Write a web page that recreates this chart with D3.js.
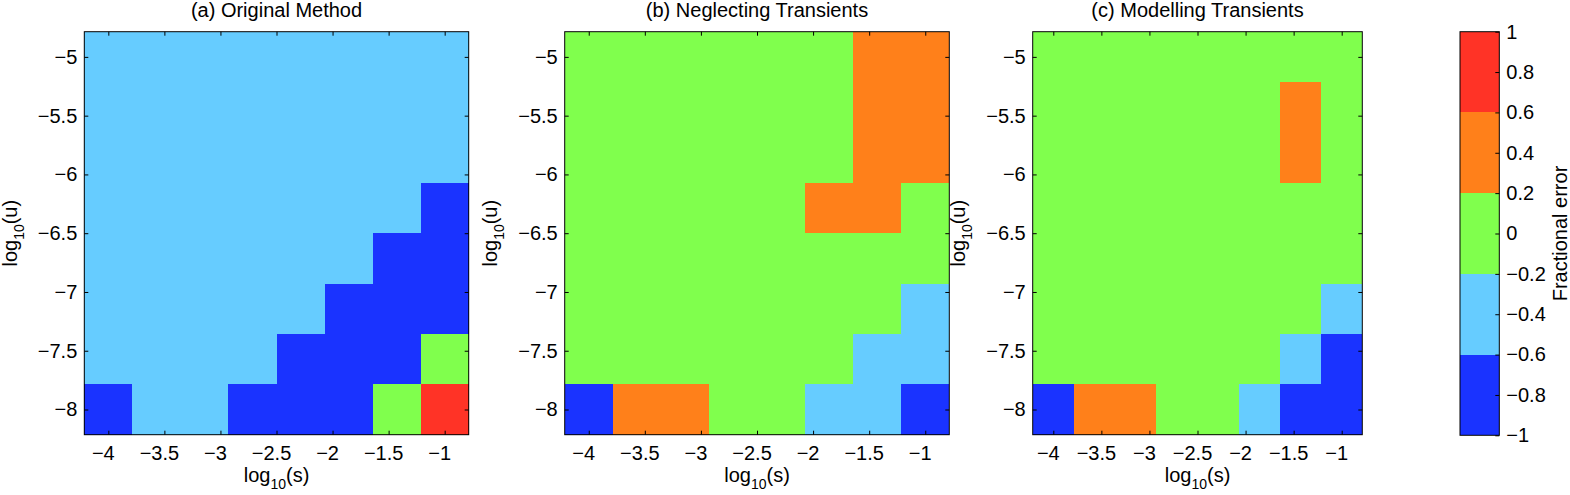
<!DOCTYPE html>
<html>
<head>
<meta charset="utf-8">
<script src="https://cdn.jsdelivr.net/npm/d3@7"></script>
<style>
  html, body { margin: 0; padding: 0; background: #fff; }
  svg { display: block; }
  text { font-family: "Liberation Sans", Arial, Helvetica, sans-serif; fill: #000; }
</style>
</head>
<body>
<svg id="chart" width="1570" height="495"></svg>
<script>
// ---- Data ----
const logS = [-4, -3.5714, -3.1429, -2.7143, -2.2857, -1.8571, -1.4286, -1];   // columns (x)
const logU = [-5, -5.4286, -5.8571, -6.2857, -6.7143, -7.1429, -7.5714, -8];   // rows (y), top to bottom
const xTicks = [-4, -3.5, -3, -2.5, -2, -1.5, -1];
const yTicks = [-5, -5.5, -6, -6.5, -7, -7.5, -8];
const cbTicks = [-1, -0.8, -0.6, -0.4, -0.2, 0, 0.2, 0.4, 0.6, 0.8, 1];
const cbLevels = [-1, -0.6, -0.2, 0.2, 0.6, 1];
const cbColors = ["#1a33ff", "#66ccff", "#80ff4d", "#ff801a", "#ff3326"];
const titles = ["(a) Original Method", "(b) Neglecting Transients", "(c) Modelling Transients"];

// fractional error, rows = logU (top to bottom), cols = logS
const errA = [
  [-0.4, -0.4, -0.4, -0.4, -0.4, -0.4, -0.4, -0.4],
  [-0.4, -0.4, -0.4, -0.4, -0.4, -0.4, -0.4, -0.4],
  [-0.4, -0.4, -0.4, -0.4, -0.4, -0.4, -0.4, -0.4],
  [-0.4, -0.4, -0.4, -0.4, -0.4, -0.4, -0.4, -0.8],
  [-0.4, -0.4, -0.4, -0.4, -0.4, -0.4, -0.8, -0.8],
  [-0.4, -0.4, -0.4, -0.4, -0.4, -0.8, -0.8, -0.8],
  [-0.4, -0.4, -0.4, -0.4, -0.8, -0.8, -0.8,  0.0],
  [-0.8, -0.4, -0.4, -0.8, -0.8, -0.8,  0.0,  0.8]
];
const errB = [
  [ 0.0,  0.0,  0.0,  0.0,  0.0,  0.0,  0.4,  0.4],
  [ 0.0,  0.0,  0.0,  0.0,  0.0,  0.0,  0.4,  0.4],
  [ 0.0,  0.0,  0.0,  0.0,  0.0,  0.0,  0.4,  0.4],
  [ 0.0,  0.0,  0.0,  0.0,  0.0,  0.4,  0.4,  0.0],
  [ 0.0,  0.0,  0.0,  0.0,  0.0,  0.0,  0.0,  0.0],
  [ 0.0,  0.0,  0.0,  0.0,  0.0,  0.0,  0.0, -0.4],
  [ 0.0,  0.0,  0.0,  0.0,  0.0,  0.0, -0.4, -0.4],
  [-0.8,  0.4,  0.4,  0.0,  0.0, -0.4, -0.4, -0.8]
];
const errC = [
  [ 0.0,  0.0,  0.0,  0.0,  0.0,  0.0,  0.0,  0.0],
  [ 0.0,  0.0,  0.0,  0.0,  0.0,  0.0,  0.4,  0.0],
  [ 0.0,  0.0,  0.0,  0.0,  0.0,  0.0,  0.4,  0.0],
  [ 0.0,  0.0,  0.0,  0.0,  0.0,  0.0,  0.0,  0.0],
  [ 0.0,  0.0,  0.0,  0.0,  0.0,  0.0,  0.0,  0.0],
  [ 0.0,  0.0,  0.0,  0.0,  0.0,  0.0,  0.0, -0.4],
  [ 0.0,  0.0,  0.0,  0.0,  0.0,  0.0, -0.4, -0.8],
  [-0.8,  0.4,  0.4,  0.0,  0.0, -0.4, -0.8, -0.8]
];
const panelData = [errA, errB, errC];

// ---- Layout ----
const svg = d3.select("#chart");
const plotTop = 31.7, plotBottom = 434.7;
const panelX = [[84.3, 468.7], [564.7, 949.3], [1032.7, 1362.3]];
const stepS = 3 / 7, stepU = 3 / 7;
const xDom = [-4 - stepS / 2, -1 + stepS / 2];
const yDom = [-8 - stepU / 2, -5 + stepU / 2];
const fs = 20, tickLen = 4;
const fmt = v => (v < 0 ? "\u2212" : "") + String(Math.abs(v));
// shared cell edges (one more than the number of centres)
const edgesS = logS.map(s => s - stepS / 2).concat([logS[logS.length - 1] + stepS / 2]);
const edgesU = logU.map(u => u + stepU / 2).concat([logU[logU.length - 1] - stepU / 2]);

const color = d3.scaleThreshold().domain(cbLevels.slice(1, -1)).range(cbColors);

panelData.forEach((grid, p) => {
  const [x0, x1] = panelX[p];
  const x = d3.scaleLinear().domain(xDom).range([x0, x1]);
  const y = d3.scaleLinear().domain(yDom).range([plotBottom, plotTop]);
  const g = svg.append("g");

  const ex = edgesS.map(e => Math.round(x(e)));
  const ey = edgesU.map(e => Math.round(y(e)));
  const cells = [];
  grid.forEach((row, r) => row.forEach((v, c) => cells.push({ r, c, s: logS[c], u: logU[r], v })));
  g.append("g").selectAll("rect").data(cells).join("rect")
    .attr("x", d => ex[d.c])
    .attr("y", d => ey[d.r])
    .attr("width", d => ex[d.c + 1] - ex[d.c])
    .attr("height", d => ey[d.r + 1] - ey[d.r])
    .attr("fill", d => color(d.v));

  // axes (inner ticks on all sides)
  const axB = g.append("g").attr("transform", `translate(0,${plotBottom})`)
    .call(d3.axisBottom(x).tickValues(xTicks).tickSize(-tickLen).tickPadding(11).tickFormat(fmt));
  axB.selectAll(".tick text").attr("dx", -5.5);
  const axT = g.append("g").attr("transform", `translate(0,${plotTop})`)
    .call(d3.axisTop(x).tickValues(xTicks).tickSize(-tickLen).tickFormat(""));
  const axL = g.append("g").attr("transform", `translate(${x0},0)`)
    .call(d3.axisLeft(y).tickValues(yTicks).tickSize(-tickLen).tickPadding(7).tickFormat(fmt));
  const axR = g.append("g").attr("transform", `translate(${x1},0)`)
    .call(d3.axisRight(y).tickValues(yTicks).tickSize(-tickLen).tickFormat(""));
  [axB, axT, axL, axR].forEach(a => {
    a.select(".domain").remove();
    a.selectAll(".tick line").attr("stroke", "#000").attr("stroke-width", 1);
    a.selectAll("text").attr("font-size", fs).attr("font-family", "Liberation Sans, Arial, sans-serif").attr("fill", "#000");
  });

  g.append("rect").attr("x", x0).attr("y", plotTop).attr("width", x1 - x0).attr("height", plotBottom - plotTop)
    .attr("fill", "none").attr("stroke", "#000").attr("stroke-width", 1);

  // title
  g.append("text").attr("x", (x0 + x1) / 2).attr("y", 17).attr("text-anchor", "middle")
    .attr("font-size", fs).text(titles[p]);

  // x label
  const xl = g.append("text").attr("x", (x0 + x1) / 2).attr("y", 482).attr("text-anchor", "middle").attr("font-size", fs);
  xl.append("tspan").text("log");
  xl.append("tspan").attr("font-size", 14).attr("dy", 7).text("10");
  xl.append("tspan").attr("dy", -7).text("(s)");

  // y label
  const yl = g.append("text").attr("transform", `translate(${x0 - 67.5},${(plotTop + plotBottom) / 2}) rotate(-90)`)
    .attr("text-anchor", "middle").attr("font-size", fs);
  yl.append("tspan").text("log");
  yl.append("tspan").attr("font-size", 14).attr("dy", 7).text("10");
  yl.append("tspan").attr("dy", -7).text("(u)");
});

// ---- Colorbar ----
const cbX0 = 1460, cbX1 = 1499.3, cbTop = 31.7, cbBot = 435.3;
const cy = d3.scaleLinear().domain([-1, 1]).range([cbBot, cbTop]);
const cb = svg.append("g");
cb.append("g").selectAll("rect").data(cbColors).join("rect")
  .attr("x", cbX0).attr("width", cbX1 - cbX0)
  .attr("y", (c, i) => Math.round(cy(cbLevels[i + 1])))
  .attr("height", (c, i) => Math.round(cy(cbLevels[i])) - Math.round(cy(cbLevels[i + 1])))
  .attr("fill", c => c);
const cbAx = cb.append("g").attr("transform", `translate(${cbX1},0)`)
  .call(d3.axisRight(cy).tickValues(cbTicks).tickSize(-tickLen).tickPadding(7).tickFormat(fmt));
cbAx.select(".domain").remove();
cbAx.selectAll(".tick line").attr("stroke", "#000");
cbAx.selectAll("text").attr("font-size", fs).attr("font-family", "Liberation Sans, Arial, sans-serif").attr("fill", "#000");
cb.append("rect").attr("x", cbX0).attr("y", cbTop).attr("width", cbX1 - cbX0).attr("height", cbBot - cbTop)
  .attr("fill", "none").attr("stroke", "#000").attr("stroke-width", 1);
cb.append("text").attr("transform", `translate(1567,${(cbTop + cbBot) / 2}) rotate(-90)`)
  .attr("text-anchor", "middle").attr("font-size", fs).text("Fractional error");
</script>
</body>
</html>
